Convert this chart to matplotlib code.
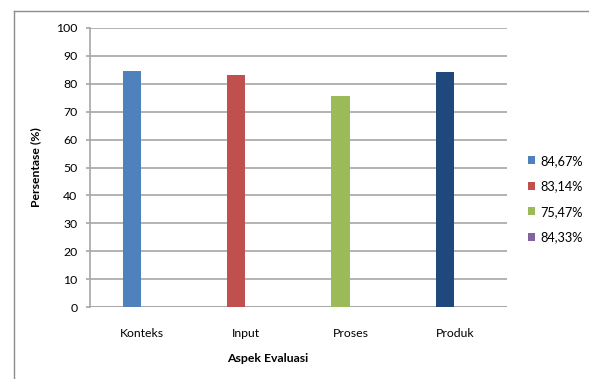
import matplotlib
matplotlib.use("Agg")
import matplotlib.pyplot as plt
from matplotlib.patches import Patch
from matplotlib.lines import Line2D
import numpy as np

plt.rcParams['font.family'] = ['Lato', 'DejaVu Sans']

categories = ["Konteks", "Input", "Proses", "Produk"]
values = [84.67, 83.14, 75.47, 84.33]
series_labels = ["84,67%", "83,14%", "75,47%", "84,33%"]
bar_colors = ["#4F81BD", "#C0504D", "#9BBB59", "#1F497D"]
legend_colors = ["#4F81BD", "#C0504D", "#9BBB59", "#8064A2"]
y_ticks = list(range(0, 101, 10))

W, H = 589, 379
fig = plt.figure(figsize=(W / 100, H / 100), dpi=100)

# outer chart frame (top and left edges visible)
fig.add_artist(Line2D([14 / W, 1.0], [1 - 11 / H, 1 - 11 / H],
                      transform=fig.transFigure, color="#8C8C8C", lw=1.0))
fig.add_artist(Line2D([14 / W, 14 / W], [0.0, 1 - 11 / H],
                      transform=fig.transFigure, color="#8C8C8C", lw=1.0))

left, right, top, bottom = 90, 507, 28, 307
ax = fig.add_axes([left / W, 1 - bottom / H, (right - left) / W, (bottom - top) / H])

x = np.arange(len(categories))
offset = -0.096
ax.bar(x + offset, values, width=0.175, color=bar_colors, zorder=3)

ax.set_xlim(-0.5, len(categories) - 0.5)
ax.set_ylim(0, 100)
ax.set_yticks(y_ticks)
ax.set_xticks(x)
ax.set_xticklabels(categories)

ax.grid(axis="y", color="#A6A6A6", lw=1.2, zorder=0)
for s in ["top", "right", "bottom"]:
    ax.spines[s].set_visible(False)
ax.spines["left"].set_color("#A6A6A6")
ax.spines["left"].set_linewidth(1.2)
ax.axhline(0, color="#A6A6A6", lw=1.2, zorder=2)

ax.tick_params(axis="y", length=3, width=1.2, color="#A6A6A6", pad=6,
               labelsize=8.8, labelcolor="black")
ax.tick_params(axis="x", length=0, pad=15, labelsize=8.8, labelcolor="black")

ax.set_ylabel("Persentase (%)", fontsize=8.8, fontweight="bold", labelpad=11)
fig.text(268 / W, 1 - 359 / H, "Aspek Evaluasi", ha="center", va="center",
         fontsize=8.8, fontweight="bold")

handles = [Patch(facecolor=c, edgecolor="none") for c in legend_colors]
fig.legend(handles, series_labels, loc="center left",
           bbox_to_anchor=(516 / W, 1 - 199 / H), frameon=False,
           fontsize=9.2, handlelength=0.6, handleheight=0.6, handletextpad=0.4,
           labelspacing=1.05)

fig.savefig("out.png", dpi=100, facecolor="white")
